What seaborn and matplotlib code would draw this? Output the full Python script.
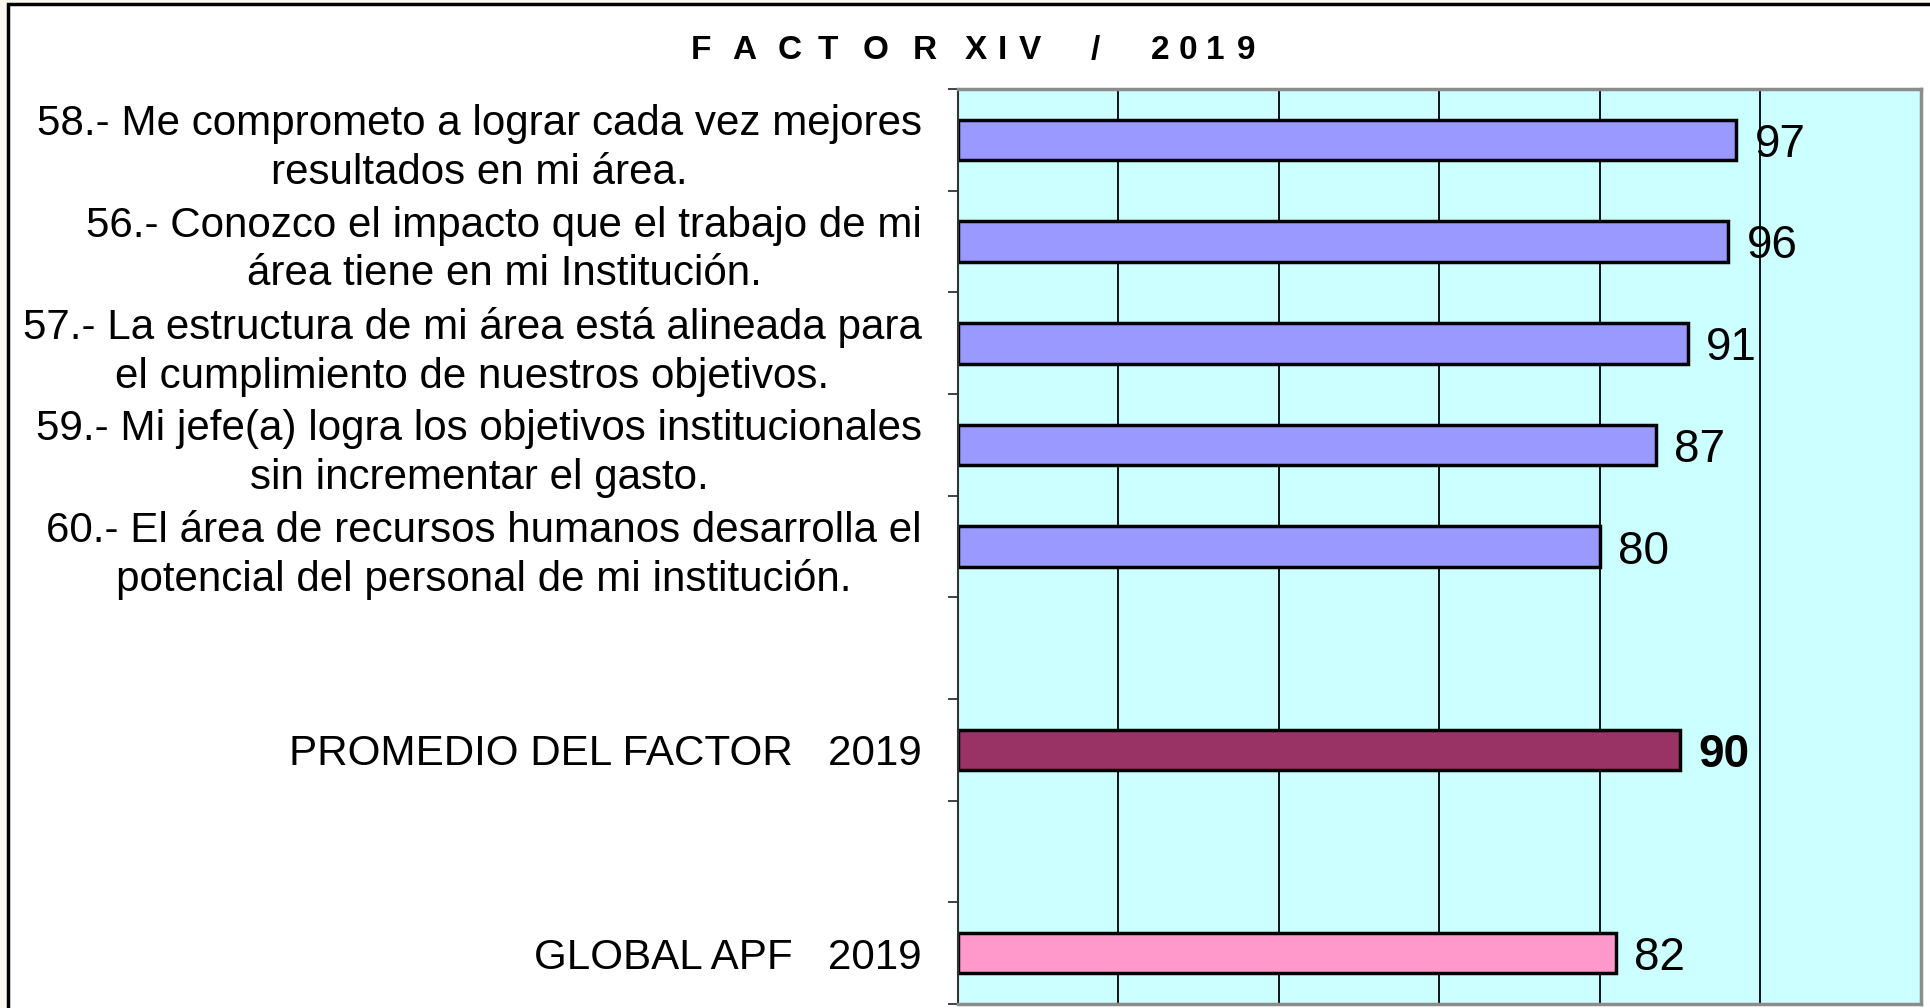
import matplotlib
matplotlib.use("Agg")
import matplotlib.pyplot as plt
import seaborn as sns
import pandas as pd
import numpy as np
from matplotlib.patches import Rectangle

# ---------------- data ----------------
categories = [
    "58.- Me comprometo a lograr cada vez mejores\nresultados en mi área.",
    "56.- Conozco el impacto que el trabajo de mi\nárea tiene en mi Institución.",
    "57.- La estructura de mi área está alineada para\nel cumplimiento de nuestros objetivos.",
    "59.- Mi jefe(a) logra los objetivos institucionales\nsin incrementar el gasto.",
    "60.- El área de recursos humanos desarrolla el\npotencial del personal de mi institución.",
    "PROMEDIO DEL FACTOR   2019",
    "GLOBAL APF   2019",
]
values = [97, 96, 91, 87, 80, 90, 82]
bar_colors = ["#9999FF", "#9999FF", "#9999FF", "#9999FF", "#9999FF", "#993366", "#FF99CC"]
x_ticks = [0, 20, 40, 60, 80, 100, 120]
title_chars = list("FACTORXIV/2019")

# ---------------- style ----------------
sns.set_theme(style="white")
plt.rcParams["font.family"] = ["Liberation Sans", "DejaVu Sans"]

W, H = 1931, 1008
fig = plt.figure(figsize=(W / 100, H / 100), dpi=100)
fig.patch.set_facecolor("#FBF8F2")
fig.patches.append(Rectangle((8 / W, -0.1), 1.2, 1.1 - 4 / H, transform=fig.transFigure,
                             facecolor="white", edgecolor="black", linewidth=2.5, zorder=-1))

ax = fig.add_axes([958 / W, 4 / H, 963 / W, 915 / H])
ax.set_facecolor("#CCFFFF")

df = pd.DataFrame({"label": categories, "value": values})
order = categories[:5] + [" "] + [categories[5]] + ["  "] + [categories[6]]
sns.barplot(data=df, x="value", y="label", order=order, hue="label", hue_order=categories,
            palette=dict(zip(categories, bar_colors)), legend=False, width=0.4,
            edgecolor="black", linewidth=2.5, saturation=1, ax=ax)

ax.set_xlim(x_ticks[0], x_ticks[-1])
ax.set_xticks(x_ticks)
ax.set_xticklabels([])
ax.tick_params(axis="x", length=0)
ax.set_axisbelow(True)
ax.xaxis.grid(True, color="black", linewidth=1.3)
ax.yaxis.grid(False)
ax.set_xlabel("")
ax.set_ylabel("")

ax.tick_params(axis="y", which="major", length=0, pad=26, labelsize=30.3, labelcolor="black")
ax.set_yticks(np.arange(-0.5, len(order), 1), minor=True)
ax.tick_params(axis="y", which="minor", length=7, width=1.3, color="#333333", left=True)
for lbl in ax.get_yticklabels():
    lbl.set_multialignment("center")
    lbl.set_linespacing(1.27)

for name, sp in ax.spines.items():
    sp.set_visible(True)
    sp.set_color("#8C8C8C")
    sp.set_linewidth(2.5)
ax.spines["left"].set_color("#333333")
ax.spines["left"].set_linewidth(1.5)

for i, cont in enumerate(ax.containers):
    texts = ax.bar_label(cont, fmt="%g", padding=13, fontsize=33, color="black")
    for t in texts:
        t.set_va("center_baseline")
        if i == 5:
            t.set_fontweight("bold")

# title, letter-spaced
title_x = [701, 744, 790, 828, 876, 925, 976, 1002, 1030, 1095, 1160, 1188, 1215, 1246]
for ch, xp in zip(title_chars, title_x):
    fig.text(xp / W, 1 - 59 / H, ch, ha="center", va="baseline", fontsize=24,
             fontweight="bold", color="black")

fig.savefig("out.png", dpi=100, facecolor=fig.get_facecolor())
